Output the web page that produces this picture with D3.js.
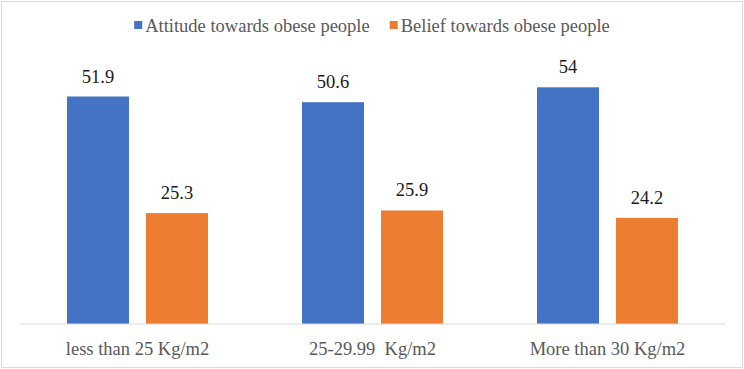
<!DOCTYPE html>
<html>
<head>
<script src="https://d3js.org/d3.v7.min.js"></script>
<style>
  body { margin: 0; background: #fff; }
  text { font-family: "Liberation Serif", "Times New Roman", serif; }
</style>
</head>
<body>
<script>
const categories = ["less than 25 Kg/m2", "25-29.99  Kg/m2", "More than 30 Kg/m2"];
const seriesNames = ["Attitude towards obese people", "Belief towards obese people"];
const attitude = [51.9, 50.6, 54];
const belief = [25.3, 25.9, 24.2];
const colors = ["#4472C4", "#ED7D31"];

const width = 744, height = 369;
const margin = {top: 61, right: 19, bottom: 45, left: 20};

const svg = d3.select("body").append("svg")
  .attr("width", width)
  .attr("height", height);

// outer border
svg.append("rect")
  .attr("x", 1.5).attr("y", 1.5)
  .attr("width", width - 3).attr("height", height - 3)
  .attr("fill", "#fff")
  .attr("stroke", "#d9d9d9");

const x0 = d3.scaleBand()
  .domain(categories)
  .range([margin.left, width - margin.right])
  .paddingInner(0.4)
  .paddingOuter(0.2);

const x1 = d3.scaleBand()
  .domain(seriesNames)
  .range([0, x0.bandwidth()])
  .paddingInner(0.215)
  .paddingOuter(0);

const y = d3.scaleLinear()
  .domain([0, 60])
  .range([height - margin.bottom, margin.top]);

const data = categories.map((c, i) => ({
  cat: c,
  vals: [{s: seriesNames[0], v: attitude[i]}, {s: seriesNames[1], v: belief[i]}]
}));

const groups = svg.selectAll("g.grp")
  .data(data)
  .join("g")
  .attr("class", "grp")
  .attr("transform", d => `translate(${x0(d.cat)},0)`);

groups.selectAll("rect")
  .data(d => d.vals)
  .join("rect")
  .attr("x", d => x1(d.s))
  .attr("y", d => y(d.v))
  .attr("width", x1.bandwidth())
  .attr("height", d => y(0) - y(d.v))
  .attr("fill", (d, i) => colors[i]);

groups.selectAll("text.val")
  .data(d => d.vals)
  .join("text")
  .attr("class", "val")
  .attr("x", d => x1(d.s) + x1.bandwidth() / 2)
  .attr("y", d => y(d.v) - 14)
  .attr("text-anchor", "middle")
  .attr("font-size", 18.5)
  .attr("fill", "#1a1a1a")
  .text(d => d.v);

// baseline
svg.append("line")
  .attr("x1", margin.left).attr("x2", width - margin.right)
  .attr("y1", y(0)).attr("y2", y(0))
  .attr("stroke", "#d9d9d9")
  .attr("stroke-width", 1);

// category axis labels
const xAxis = d3.axisBottom(x0).tickSize(0).tickPadding(0);
const ax = svg.append("g")
  .attr("transform", `translate(0,${y(0)})`)
  .call(xAxis);
ax.select(".domain").remove();
ax.selectAll("text")
  .attr("dy", null)
  .attr("y", 31)
  .attr("font-size", 18.5)
  .attr("font-family", "Liberation Serif, Times New Roman, serif")
  .attr("fill", "#595959")
  .style("white-space", "pre");

// legend
const legend = svg.append("g");
const items = legend.selectAll("g")
  .data(seriesNames)
  .join("g");
items.append("rect")
  .attr("width", 8).attr("height", 8)
  .attr("y", 21)
  .attr("fill", (d, i) => colors[i]);
items.append("text")
  .attr("x", 11)
  .attr("y", 32)
  .attr("font-size", 18.5)
  .attr("fill", "#595959")
  .text(d => d);
let lx = 0;
items.each(function() {
  d3.select(this).attr("transform", `translate(${lx},0)`);
  lx += this.getBBox().width + 20;
});
const total = lx - 20;
legend.attr("transform", `translate(${(width - total) / 2},0)`);
</script>
</body>
</html>
